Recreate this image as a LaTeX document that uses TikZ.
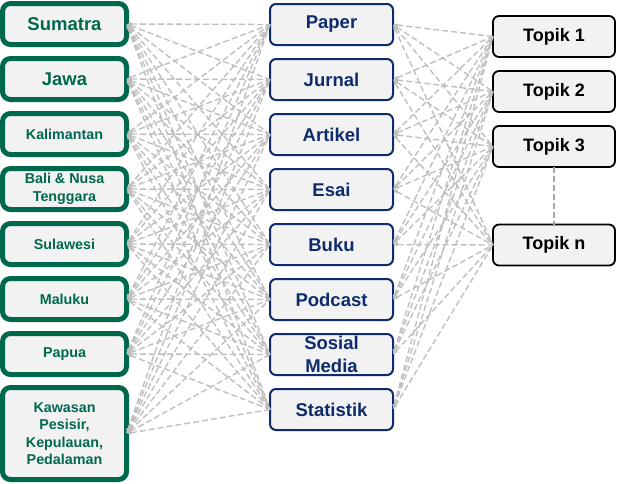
\documentclass[tikz,border=0pt]{standalone}
\usepackage{fontspec}
\setmainfont{Liberation Sans}
\usetikzlibrary{arrows.meta}
\definecolor{dgreen}{RGB}{0,104,76}
\definecolor{navy}{RGB}{14,43,108}
\definecolor{boxfill}{RGB}{242,242,242}

\begin{document}
\begin{tikzpicture}[x=1pt, y=-1pt,
	region/.style={draw=dgreen, line width=5pt, fill=boxfill, rounded corners=8pt,
		minimum width=124pt, minimum height=41pt, inner sep=0pt, outer sep=0pt,
		align=center, text=dgreen, font=\fontsize{14.3}{17.5}\selectfont\bfseries},
	bigregion/.style={region, font=\fontsize{18.5}{22}\selectfont\bfseries},
	source/.style={draw=navy, line width=2pt, fill=boxfill, rounded corners=6pt,
		minimum width=123pt, minimum height=41pt, inner sep=0pt, outer sep=0pt,
		align=center, text=navy, font=\fontsize{18.5}{22.5}\selectfont\bfseries},
	topic/.style={draw=black, line width=1.8pt, fill=boxfill, rounded corners=6pt,
		minimum width=122pt, minimum height=41pt, inner sep=0pt, outer sep=0pt,
		text=black, font=\fontsize{18}{22}\selectfont\bfseries},
	link/.style={<-, >={Latex[length=5pt, width=4pt]}, black!25, line width=1.4pt,
		dash pattern=on 6pt off 3pt},
	gap/.style={black!35, line width=1.4pt, dash pattern=on 6pt off 3pt}
	]
	\useasboundingbox (0,0) rectangle (617,483);
	
	% Regions
	\node[bigregion] (sumatra) at (64.5,24) {Sumatra};
	\node[bigregion] (jawa) at (64.5,79) {Jawa};
	\node[region] (kalimantan) at (64.5,134) {Kalimantan};
	\node[region] (bali) at (64.5,189) {Bali \& Nusa\\Tenggara};
	\node[region] (sulawesi) at (64.5,244) {Sulawesi};
	\node[region] (maluku) at (64.5,299) {Maluku};
	\node[region] (papua) at (64.5,354) {Papua};
	\node[region, minimum height=92pt] (kawasan) at (64.5,433.5)
	{Kawasan\\Pesisir,\\Kepulauan,\\Pedalaman};
	
	% Sources
	\node[source] (paper) at (331.5,24.5) {Paper};
	\node[source] (jurnal) at (331.5,79.5) {Jurnal};
	\node[source] (artikel) at (331.5,134.5) {Artikel};
	\node[source] (esai) at (331.5,189.5) {Esai};
	\node[source] (buku) at (331.5,244.5) {Buku};
	\node[source] (podcast) at (331.5,299.5) {Podcast};
	\node[source] (sosmed) at (331.5,354.5) {Sosial\\Media};
	\node[source] (statistik) at (331.5,409.5) {Statistik};
	
	% Topics
	\node[topic] (t1) at (554,36.5) {Topik 1};
	\node[topic] (t2) at (554,91.5) {Topik 2};
	\node[topic] (t3) at (554,146.5) {Topik 3};
	\node[topic] (tn) at (554,245) {Topik n};
	
	% Links regions - sources
	\foreach \r in {sumatra,jawa,kalimantan,bali,sulawesi,maluku,papua,kawasan}
	\foreach \s in {paper,jurnal,artikel,esai,buku,podcast,sosmed,statistik}
	\draw[link] (\r.east) -- (\s.west);
	
	% Links sources - topics
	\foreach \s in {paper,jurnal,artikel,esai,buku,podcast,sosmed,statistik}
	\foreach \t in {t1,t2,t3,tn}
	\draw[link] (\s.east) -- (\t.west);
	
	% Topik 3 to Topik n
	\draw[gap] (t3.south) -- (tn.north);
	
\end{tikzpicture}
\end{document}
